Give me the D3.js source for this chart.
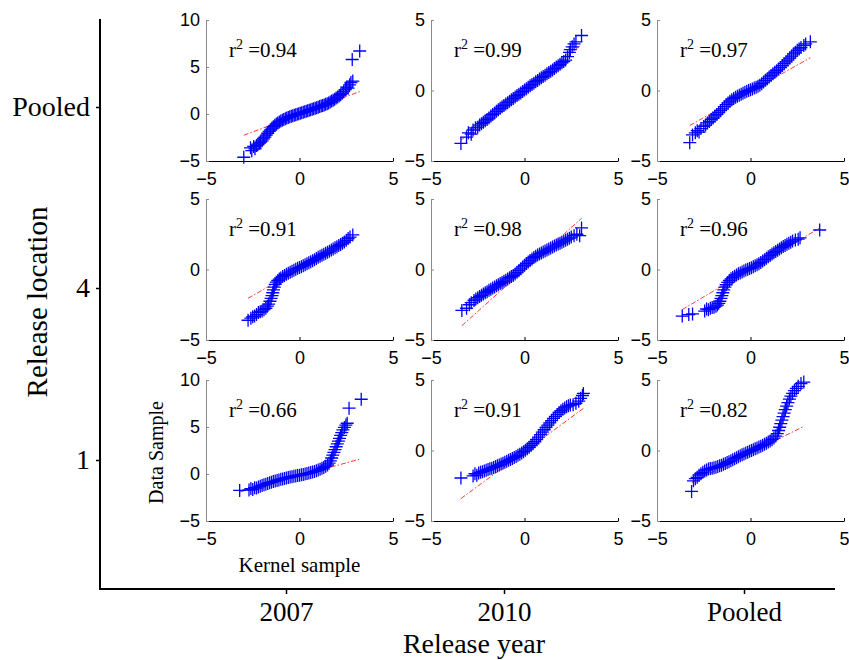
<!DOCTYPE html>
<html><head><meta charset="utf-8">
<script src="https://cdn.jsdelivr.net/npm/d3@7"></script>
<style>body{margin:0;background:#fff}svg{display:block}</style>
</head><body><svg id="c" width="849" height="660"></svg>
<script>
// ---------------- DATA ----------------
const rowLabels = ["Pooled", "4", "1"];
const colLabels = ["2007", "2010", "Pooled"];
const r2Labels = [["0.94", "0.99", "0.97"], ["0.91", "0.98", "0.96"], ["0.66", "0.91", "0.82"]];
const xTicks = [-5, 0, 5];
const yTicksTall = [-5, 0, 5, 10];
const yTicksShort = [-5, 0, 5];
const yMaxByPanel = [[10, 5, 5], [5, 5, 5], [10, 5, 5]];
const fitSlope = [[0.75, 1.05, 0.745], [0.76, 1.19, 0.787], [0.546, 0.977, 0.664]];
const fitIntercept = [[-0.03, 0.05, -0.06], [0.05, 0.0, 0.03], [-0.18, -0.09, -0.18]];

// QQ points [kernel quantile, data quantile]
const qqPooled2007 = [[-2.98,-4.6],[-2.62,-3.6],[-2.55,-3.9],[-2.45,-3.45],[-2.38,-3.7],[-2.3,-3.35],[-2.22,-3.2],[-2.15,-3.1],[-2.08,-3.0],[-2.0,-2.85],[-1.92,-2.65],[-1.85,-2.45],[-1.78,-2.25],[-1.7,-2.05],[-1.62,-1.85],[-1.55,-1.68],[-1.47,-1.5],[-1.4,-1.35],[-1.32,-1.2],[-1.24,-1.07],[-1.16,-0.95],[-1.08,-0.84],[-1.0,-0.75],[-0.92,-0.66],[-0.84,-0.58],[-0.76,-0.5],[-0.68,-0.43],[-0.6,-0.36],[-0.52,-0.3],[-0.44,-0.24],[-0.36,-0.18],[-0.28,-0.12],[-0.2,-0.07],[-0.12,-0.02],[-0.04,0.03],[0.04,0.08],[0.12,0.13],[0.2,0.18],[0.28,0.23],[0.36,0.28],[0.44,0.34],[0.52,0.39],[0.6,0.45],[0.68,0.5],[0.76,0.56],[0.84,0.62],[0.92,0.67],[1.0,0.73],[1.08,0.79],[1.16,0.85],[1.24,0.91],[1.32,0.97],[1.4,1.03],[1.48,1.1],[1.56,1.18],[1.64,1.27],[1.72,1.37],[1.8,1.47],[1.88,1.58],[1.96,1.7],[2.04,1.8],[2.12,1.92],[2.2,2.05],[2.28,2.2],[2.36,2.38],[2.45,2.6],[2.52,2.85],[2.6,2.75],[2.68,3.1],[2.75,3.35],[2.85,3.5],[2.82,5.8],[3.22,6.7]];
const qqPooled2010 = [[-3.4,-3.75],[-3.1,-3.3],[-3.0,-3.0],[-2.85,-3.1],[-2.75,-2.8],[-2.62,-2.65],[-2.5,-2.6],[-2.4,-2.45],[-2.3,-2.35],[-2.2,-2.25],[-2.1,-2.15],[-2.0,-2.05],[-1.9,-1.95],[-1.8,-1.8],[-1.7,-1.7],[-1.6,-1.6],[-1.5,-1.48],[-1.4,-1.37],[-1.3,-1.26],[-1.2,-1.16],[-1.1,-1.06],[-1.0,-0.96],[-0.9,-0.86],[-0.8,-0.76],[-0.7,-0.66],[-0.6,-0.56],[-0.5,-0.46],[-0.4,-0.36],[-0.3,-0.27],[-0.2,-0.17],[-0.1,-0.07],[0,0.03],[0.1,0.13],[0.2,0.23],[0.3,0.33],[0.4,0.42],[0.5,0.52],[0.6,0.62],[0.7,0.71],[0.8,0.81],[0.9,0.91],[1.0,1.0],[1.1,1.09],[1.2,1.18],[1.3,1.27],[1.4,1.36],[1.5,1.46],[1.6,1.56],[1.7,1.66],[1.8,1.76],[1.9,1.86],[2.0,1.96],[2.1,2.05],[2.2,2.16],[2.3,2.4],[2.4,2.7],[2.45,2.9],[2.55,3.1],[2.65,3.3],[2.75,3.45],[3.05,3.9]];
const qqPooledPooled = [[-3.25,-3.7],[-3.1,-3.15],[-2.95,-3.0],[-2.85,-2.85],[-2.75,-2.95],[-2.65,-2.7],[-2.5,-2.55],[-2.4,-2.45],[-2.3,-2.3],[-2.2,-2.2],[-2.1,-2.05],[-2.0,-1.95],[-1.9,-1.8],[-1.8,-1.7],[-1.7,-1.56],[-1.6,-1.43],[-1.5,-1.3],[-1.4,-1.15],[-1.3,-1.0],[-1.2,-0.88],[-1.1,-0.76],[-1.0,-0.66],[-0.9,-0.56],[-0.8,-0.48],[-0.7,-0.4],[-0.6,-0.33],[-0.5,-0.26],[-0.4,-0.19],[-0.3,-0.12],[-0.2,-0.06],[-0.1,0.0],[0,0.05],[0.1,0.11],[0.2,0.17],[0.3,0.23],[0.4,0.3],[0.5,0.38],[0.6,0.48],[0.7,0.6],[0.8,0.72],[0.9,0.84],[1.0,0.96],[1.1,1.07],[1.2,1.18],[1.3,1.29],[1.4,1.4],[1.5,1.52],[1.6,1.64],[1.7,1.77],[1.8,1.9],[1.9,2.03],[2.0,2.16],[2.1,2.3],[2.2,2.44],[2.3,2.6],[2.4,2.72],[2.5,2.85],[2.6,2.95],[2.7,3.05],[2.85,3.2],[2.95,3.3],[3.2,3.45]];
const qq4_2007 = [[-2.75,-3.6],[-2.6,-3.45],[-2.5,-3.35],[-2.4,-3.3],[-2.3,-3.2],[-2.2,-3.05],[-2.1,-3.0],[-2.0,-2.95],[-1.9,-2.85],[-1.8,-2.75],[-1.72,-2.6],[-1.65,-2.45],[-1.58,-2.25],[-1.52,-2.05],[-1.47,-1.85],[-1.43,-1.65],[-1.39,-1.45],[-1.35,-1.25],[-1.3,-1.05],[-1.24,-0.9],[-1.16,-0.78],[-1.08,-0.68],[-1.0,-0.6],[-0.9,-0.5],[-0.8,-0.42],[-0.7,-0.34],[-0.6,-0.26],[-0.5,-0.19],[-0.4,-0.12],[-0.3,-0.05],[-0.2,0.02],[-0.1,0.08],[0,0.14],[0.1,0.2],[0.2,0.27],[0.3,0.34],[0.4,0.41],[0.5,0.48],[0.6,0.55],[0.7,0.62],[0.8,0.7],[0.9,0.78],[1.0,0.86],[1.1,0.94],[1.2,1.01],[1.3,1.08],[1.4,1.15],[1.5,1.22],[1.6,1.3],[1.7,1.38],[1.8,1.46],[1.9,1.54],[2.0,1.62],[2.1,1.7],[2.2,1.78],[2.3,1.87],[2.4,1.95],[2.5,2.07],[2.6,2.2],[2.7,2.3],[2.85,2.45]];
const qq4_2010 = [[-3.35,-2.9],[-3.1,-2.75],[-2.95,-2.5],[-2.85,-2.35],[-2.7,-2.2],[-2.6,-2.1],[-2.5,-2.0],[-2.4,-1.92],[-2.3,-1.83],[-2.2,-1.74],[-2.1,-1.65],[-2.0,-1.57],[-1.9,-1.48],[-1.8,-1.4],[-1.7,-1.32],[-1.6,-1.24],[-1.5,-1.16],[-1.4,-1.08],[-1.3,-1.0],[-1.2,-0.92],[-1.1,-0.84],[-1.0,-0.76],[-0.9,-0.67],[-0.8,-0.58],[-0.7,-0.5],[-0.6,-0.42],[-0.5,-0.32],[-0.4,-0.2],[-0.3,-0.08],[-0.2,0.05],[-0.1,0.18],[0,0.3],[0.1,0.42],[0.2,0.53],[0.3,0.64],[0.4,0.75],[0.5,0.85],[0.6,0.94],[0.7,1.02],[0.8,1.1],[0.9,1.17],[1.0,1.24],[1.1,1.31],[1.2,1.38],[1.3,1.45],[1.4,1.52],[1.5,1.59],[1.6,1.66],[1.7,1.73],[1.8,1.8],[1.9,1.87],[2.0,1.94],[2.1,2.01],[2.2,2.08],[2.3,2.15],[2.4,2.22],[2.5,2.3],[2.65,2.4],[2.8,2.5],[2.95,2.4],[3.05,2.95]];
const qq4_Pooled = [[-3.65,-3.3],[-3.3,-3.2],[-3.1,-3.15],[-2.45,-2.95],[-2.35,-2.8],[-2.25,-2.85],[-2.15,-2.75],[-2.05,-2.7],[-1.95,-2.68],[-1.85,-2.6],[-1.77,-2.52],[-1.7,-2.4],[-1.64,-2.25],[-1.58,-2.05],[-1.53,-1.85],[-1.48,-1.65],[-1.43,-1.45],[-1.37,-1.25],[-1.3,-1.08],[-1.22,-0.92],[-1.13,-0.78],[-1.04,-0.66],[-0.95,-0.56],[-0.85,-0.47],[-0.75,-0.39],[-0.65,-0.31],[-0.55,-0.24],[-0.45,-0.17],[-0.35,-0.1],[-0.25,-0.04],[-0.15,0.02],[-0.05,0.07],[0.05,0.12],[0.15,0.19],[0.25,0.26],[0.35,0.33],[0.45,0.41],[0.55,0.5],[0.65,0.6],[0.75,0.7],[0.85,0.8],[0.95,0.9],[1.05,1.0],[1.15,1.1],[1.25,1.19],[1.35,1.28],[1.45,1.37],[1.55,1.46],[1.65,1.55],[1.75,1.63],[1.85,1.71],[1.95,1.79],[2.05,1.87],[2.15,1.94],[2.25,2.02],[2.4,2.1],[2.55,2.15],[2.65,2.25],[3.7,2.8]];
const qq1_2007 = [[-3.2,-1.75],[-2.7,-1.7],[-2.6,-1.55],[-2.5,-1.65],[-2.4,-1.45],[-2.3,-1.5],[-2.2,-1.38],[-2.1,-1.3],[-2.0,-1.22],[-1.9,-1.15],[-1.8,-1.08],[-1.7,-1.0],[-1.6,-0.93],[-1.5,-0.87],[-1.4,-0.81],[-1.3,-0.75],[-1.2,-0.69],[-1.1,-0.63],[-1.0,-0.57],[-0.9,-0.52],[-0.8,-0.47],[-0.7,-0.42],[-0.6,-0.37],[-0.5,-0.32],[-0.4,-0.28],[-0.3,-0.24],[-0.2,-0.2],[-0.1,-0.16],[0,-0.12],[0.1,-0.08],[0.2,-0.04],[0.3,0.0],[0.4,0.05],[0.5,0.1],[0.6,0.15],[0.7,0.21],[0.8,0.27],[0.9,0.34],[1.0,0.42],[1.1,0.5],[1.2,0.6],[1.3,0.7],[1.4,0.82],[1.5,0.96],[1.58,1.15],[1.65,1.4],[1.72,1.7],[1.78,2.0],[1.84,2.3],[1.9,2.6],[1.96,2.9],[2.02,3.2],[2.08,3.5],[2.14,3.8],[2.2,4.1],[2.26,4.4],[2.32,4.7],[2.4,4.95],[2.48,5.2],[2.55,5.4],[2.65,7.0],[3.3,7.95]];
const qq1_2010 = [[-3.4,-1.95],[-2.75,-1.8],[-2.65,-1.65],[-2.55,-1.75],[-2.45,-1.6],[-2.35,-1.55],[-2.25,-1.5],[-2.15,-1.45],[-2.05,-1.4],[-1.95,-1.35],[-1.85,-1.3],[-1.75,-1.25],[-1.65,-1.2],[-1.55,-1.14],[-1.45,-1.08],[-1.35,-1.02],[-1.25,-0.96],[-1.15,-0.9],[-1.05,-0.84],[-0.95,-0.77],[-0.85,-0.7],[-0.75,-0.63],[-0.65,-0.56],[-0.55,-0.49],[-0.45,-0.42],[-0.35,-0.34],[-0.25,-0.26],[-0.15,-0.17],[-0.05,-0.08],[0.05,0.02],[0.15,0.12],[0.25,0.23],[0.35,0.35],[0.45,0.48],[0.55,0.62],[0.65,0.78],[0.75,0.95],[0.85,1.12],[0.95,1.3],[1.05,1.47],[1.15,1.64],[1.25,1.8],[1.35,1.96],[1.45,2.12],[1.55,2.28],[1.65,2.42],[1.75,2.56],[1.85,2.7],[1.95,2.82],[2.05,2.93],[2.15,3.02],[2.25,3.1],[2.35,3.17],[2.45,3.22],[2.6,3.25],[2.75,3.35],[2.9,3.5],[3.0,3.7],[3.1,3.9],[3.15,4.05]];
const qq1_Pooled = [[-3.15,-2.9],[-3.05,-2.15],[-2.95,-2.0],[-2.85,-1.9],[-2.75,-1.75],[-2.65,-1.65],[-2.55,-1.55],[-2.45,-1.45],[-2.35,-1.38],[-2.25,-1.32],[-2.15,-1.28],[-2.05,-1.25],[-1.95,-1.22],[-1.85,-1.18],[-1.75,-1.14],[-1.65,-1.09],[-1.55,-1.04],[-1.45,-0.98],[-1.35,-0.92],[-1.25,-0.85],[-1.15,-0.79],[-1.05,-0.73],[-0.95,-0.66],[-0.85,-0.58],[-0.75,-0.51],[-0.65,-0.44],[-0.55,-0.37],[-0.45,-0.3],[-0.35,-0.24],[-0.25,-0.18],[-0.15,-0.12],[-0.05,-0.06],[0.05,0.0],[0.15,0.06],[0.25,0.12],[0.35,0.18],[0.45,0.24],[0.55,0.3],[0.65,0.37],[0.75,0.44],[0.85,0.52],[0.95,0.6],[1.05,0.68],[1.15,0.77],[1.25,0.88],[1.35,1.02],[1.43,1.2],[1.5,1.42],[1.56,1.65],[1.62,1.9],[1.68,2.15],[1.74,2.4],[1.8,2.65],[1.86,2.9],[1.93,3.15],[2.0,3.4],[2.08,3.65],[2.16,3.85],[2.25,4.05],[2.35,4.25],[2.45,4.4],[2.55,4.55],[2.7,4.75],[2.85,4.85]];

const panels = [
  [qqPooled2007, qqPooled2010, qqPooledPooled],
  [qq4_2007, qq4_2010, qq4_Pooled],
  [qq1_2007, qq1_2010, qq1_Pooled]
];

// ---------------- LAYOUT ----------------
const svg = d3.select("#c");
const colX = [206, 431, 657], pw = 187;
const rowY = [20, 199, 380], ph = 141;
const serif = "'Liberation Serif','Times New Roman',serif";
const sans = "'Liberation Sans',Arial,sans-serif";

// outer axes
const outerLeft = 100, outerBottom = 589, outerTop = 19, outerRight = 835;
const xOuter = d3.scaleOrdinal().domain(colLabels).range([286, 504, 744]);
const yOuter = d3.scaleOrdinal().domain(rowLabels).range([107, 288, 460]);

svg.append("line").attr("x1", outerLeft).attr("x2", outerLeft).attr("y1", outerTop).attr("y2", outerBottom + 1)
  .attr("stroke", "#000").attr("stroke-width", 2);
svg.append("line").attr("x1", outerLeft - 1).attr("x2", outerRight).attr("y1", outerBottom).attr("y2", outerBottom)
  .attr("stroke", "#000").attr("stroke-width", 2);

const gyo = svg.append("g").attr("transform", `translate(${outerLeft},0)`)
  .call(d3.axisLeft(yOuter).tickSize(4).tickPadding(6));
gyo.select(".domain").remove();
gyo.selectAll("text").attr("font-family", serif).attr("font-size", 28).attr("fill", "#000");
gyo.selectAll("line").attr("stroke", "#000").attr("stroke-width", 1.5);

const gxo = svg.append("g").attr("transform", `translate(0,${outerBottom})`)
  .call(d3.axisBottom(xOuter).tickSize(5).tickPadding(8));
gxo.select(".domain").remove();
gxo.selectAll("text").attr("font-family", serif).attr("font-size", 27).attr("fill", "#000");
gxo.selectAll("line").attr("stroke", "#000").attr("stroke-width", 1.5);

svg.append("text").attr("transform", `translate(47,302) rotate(-90)`).attr("text-anchor", "middle")
  .attr("font-family", serif).attr("font-size", 29).text("Release location");
svg.append("text").attr("x", 474).attr("y", 653).attr("text-anchor", "middle")
  .attr("font-family", serif).attr("font-size", 28).text("Release year");

// subplots
const cross = "M-6.5,0H6.5M0,-6.5V6.5";
panels.forEach((row, ri) => {
  row.forEach((pts, ci) => {
    const ymax = yMaxByPanel[ri][ci];
    const x = d3.scaleLinear().domain([-5, 5]).range([colX[ci], colX[ci] + pw]);
    const y = d3.scaleLinear().domain([-5, ymax]).range([rowY[ri] + ph, rowY[ri]]);
    const g = svg.append("g");

    const gx = g.append("g").attr("transform", `translate(0,${rowY[ri] + ph})`)
      .call(d3.axisBottom(x).tickValues(xTicks).tickSizeInner(-3).tickSizeOuter(0).tickPadding(11).tickFormat(d3.format("d")));
    gx.selectAll("text").attr("font-family", sans).attr("font-size", 18).attr("fill", "#000");
    gx.select(".domain").attr("stroke", "#000").attr("stroke-width", 1);
    gx.selectAll(".tick line").attr("stroke", "#000");

    const gy = g.append("g").attr("transform", `translate(${colX[ci]},0)`)
      .call(d3.axisLeft(y).tickValues(ymax === 10 ? yTicksTall : yTicksShort).tickSizeInner(-3).tickSizeOuter(0).tickPadding(6).tickFormat(d3.format("d")));
    gy.selectAll("text").attr("font-family", sans).attr("font-size", 18).attr("fill", "#000");
    gy.select(".domain").attr("stroke", "#8a8a8a").attr("stroke-width", 1);
    gy.selectAll(".tick line").attr("stroke", "#8a8a8a");

    // reference line (dash-dot)
    const ext = d3.extent(pts, d => d[0]);
    const b = fitSlope[ri][ci], a = fitIntercept[ri][ci];
    g.append("path")
      .datum(ext.map(v => [v, a + b * v]))
      .attr("d", d3.line().x(d => x(d[0])).y(d => y(d[1])))
      .attr("fill", "none").attr("stroke", "#ff2020").attr("stroke-width", 0.9)
      .attr("stroke-dasharray", "5,2,1.5,2");

    // markers
    g.append("g").selectAll("path").data(pts).join("path")
      .attr("transform", d => `translate(${x(d[0])},${y(d[1])})`)
      .attr("d", cross).attr("fill", "none").attr("stroke", "#0000ff").attr("stroke-width", 1.3);

    // r^2 label
    const t = g.append("text").attr("x", colX[ci] + 23).attr("y", rowY[ri] + 37)
      .attr("font-family", serif).attr("font-size", 21).attr("fill", "#000");
    t.append("tspan").text("r");
    t.append("tspan").attr("font-size", 14).attr("dy", -8).text("2");
    t.append("tspan").attr("dy", 8).text(" =" + r2Labels[ri][ci]);
  });
});

// inner axis titles on the bottom-left subplot
svg.append("text").attr("x", colX[0] + pw / 2).attr("y", 572).attr("text-anchor", "middle")
  .attr("font-family", serif).attr("font-size", 21).text("Kernel sample");
svg.append("text").attr("transform", `translate(163,${rowY[2] + ph / 2 + 2}) rotate(-90)`).attr("text-anchor", "middle")
  .attr("font-family", serif).attr("font-size", 20).text("Data Sample");
</script>
</body></html>
